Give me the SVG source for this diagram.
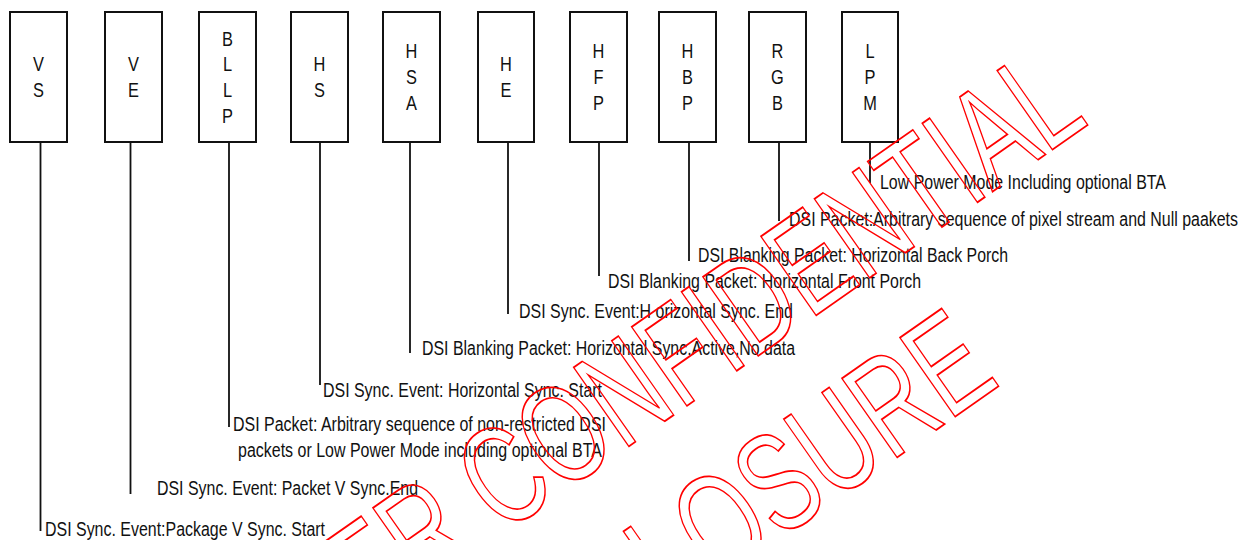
<svg xmlns="http://www.w3.org/2000/svg" width="1241" height="540" viewBox="0 0 1241 540">
<style>
  .box { fill: #fff; stroke: #111; stroke-width: 2; }
  .bl { font-family: "Liberation Sans", Arial, sans-serif; font-size: 20px; fill: #111; text-anchor: middle; }
  .stem { stroke: #111; stroke-width: 1.8; fill: none; }
  .lbl { font-family: "Liberation Sans", Arial, sans-serif; font-size: 20px; fill: #111; }
  .wm { font-family: "Liberation Sans", Arial, sans-serif; font-size: 140px; fill: none; stroke: #f00; stroke-width: 1.8; }
</style>
<rect x="0" y="0" width="1241" height="540" fill="#fff"/>

<g id="n-vs">
  <rect class="box" x="10" y="12" width="57" height="130"/>
  <text class="bl" transform="translate(38.5,0) scale(0.82,1)"><tspan x="0" y="71.3">V</tspan><tspan x="0" y="97">S</tspan></text>
</g>
<g id="n-ve">
  <rect class="box" x="105" y="12" width="57" height="130"/>
  <text class="bl" transform="translate(133.5,0) scale(0.82,1)"><tspan x="0" y="71.3">V</tspan><tspan x="0" y="97">E</tspan></text>
</g>
<g id="n-bllp">
  <rect class="box" x="199" y="12" width="57" height="130"/>
  <text class="bl" transform="translate(227.5,0) scale(0.82,1)"><tspan x="0" y="45.6">B</tspan><tspan x="0" y="71.3">L</tspan><tspan x="0" y="97">L</tspan><tspan x="0" y="122.7">P</tspan></text>
</g>
<g id="n-hs">
  <rect class="box" x="291" y="12" width="57" height="130"/>
  <text class="bl" transform="translate(319.5,0) scale(0.82,1)"><tspan x="0" y="71.3">H</tspan><tspan x="0" y="97">S</tspan></text>
</g>
<g id="n-hsa">
  <rect class="box" x="383" y="12" width="57" height="130"/>
  <text class="bl" transform="translate(411.5,0) scale(0.82,1)"><tspan x="0" y="58.45">H</tspan><tspan x="0" y="84.15">S</tspan><tspan x="0" y="109.85">A</tspan></text>
</g>
<g id="n-he">
  <rect class="box" x="478" y="12" width="56" height="130"/>
  <text class="bl" transform="translate(506,0) scale(0.82,1)"><tspan x="0" y="71.3">H</tspan><tspan x="0" y="97">E</tspan></text>
</g>
<g id="n-hfp">
  <rect class="box" x="570" y="12" width="57" height="130"/>
  <text class="bl" transform="translate(598.5,0) scale(0.82,1)"><tspan x="0" y="58.45">H</tspan><tspan x="0" y="84.15">F</tspan><tspan x="0" y="109.85">P</tspan></text>
</g>
<g id="n-hbp">
  <rect class="box" x="659" y="12" width="57" height="130"/>
  <text class="bl" transform="translate(687.5,0) scale(0.82,1)"><tspan x="0" y="58.45">H</tspan><tspan x="0" y="84.15">B</tspan><tspan x="0" y="109.85">P</tspan></text>
</g>
<g id="n-rgb">
  <rect class="box" x="749" y="12" width="57" height="130"/>
  <text class="bl" transform="translate(777.5,0) scale(0.82,1)"><tspan x="0" y="58.45">R</tspan><tspan x="0" y="84.15">G</tspan><tspan x="0" y="109.85">B</tspan></text>
</g>
<g id="n-lpm">
  <rect class="box" x="842" y="12" width="56" height="130"/>
  <text class="bl" transform="translate(870,0) scale(0.82,1)"><tspan x="0" y="58.45">L</tspan><tspan x="0" y="84.15">P</tspan><tspan x="0" y="109.85">M</tspan></text>
</g>

<g id="connectors">
  <line class="stem" x1="40.5" y1="143" x2="40.5" y2="531"/>
  <line class="stem" x1="130.5" y1="143" x2="130.5" y2="494"/>
  <line class="stem" x1="229" y1="143" x2="229" y2="427"/>
  <line class="stem" x1="320" y1="143" x2="320" y2="385"/>
  <line class="stem" x1="410" y1="143" x2="410" y2="353"/>
  <line class="stem" x1="508" y1="143" x2="508" y2="314"/>
  <line class="stem" x1="599" y1="143" x2="599" y2="276"/>
  <line class="stem" x1="689" y1="143" x2="689" y2="261"/>
  <line class="stem" x1="779" y1="143" x2="779" y2="221"/>
  <line class="stem" x1="870" y1="143" x2="870" y2="183"/>
</g>

<g id="labels">
  <text class="lbl" x="45" y="536" textLength="280" lengthAdjust="spacingAndGlyphs">DSI Sync. Event:Package V Sync. Start</text>
  <text class="lbl" x="157" y="495" textLength="261" lengthAdjust="spacingAndGlyphs">DSI Sync. Event: Packet V Sync.End</text>
  <text class="lbl" x="233" y="431" textLength="373" lengthAdjust="spacingAndGlyphs">DSI Packet: Arbitrary sequence of non-restricted DSI</text>
  <text class="lbl" x="238" y="457" textLength="364" lengthAdjust="spacingAndGlyphs">packets or Low Power Mode including optional BTA</text>
  <text class="lbl" x="323" y="397" textLength="279" lengthAdjust="spacingAndGlyphs">DSI Sync. Event: Horizontal Sync. Start</text>
  <text class="lbl" x="422" y="355" textLength="373" lengthAdjust="spacingAndGlyphs">DSI Blanking Packet: Horizontal Sync.Active,No data</text>
  <text class="lbl" x="519" y="318" textLength="274" lengthAdjust="spacingAndGlyphs">DSI Sync. Event:H orizontal Sync. End</text>
  <text class="lbl" x="608" y="288" textLength="313" lengthAdjust="spacingAndGlyphs">DSI Blanking Packet: Horizontal Front Porch</text>
  <text class="lbl" x="698" y="262" textLength="310" lengthAdjust="spacingAndGlyphs">DSI Blanking Packet: Horizontal Back Porch</text>
  <text class="lbl" x="789" y="226" textLength="449" lengthAdjust="spacingAndGlyphs">DSI Packet:Arbitrary sequence of pixel stream and Null paakets</text>
  <text class="lbl" x="880" y="189" textLength="286" lengthAdjust="spacingAndGlyphs">Low Power Mode Including optional BTA</text>
</g>

<g id="watermark">
  <text class="wm" transform="translate(368,629) rotate(-35)" x="0" y="0" textLength="882" lengthAdjust="spacingAndGlyphs">ER CONFIDENTIAL</text>
  <text class="wm" transform="translate(672,615) rotate(-35)" x="0" y="0" textLength="403" lengthAdjust="spacingAndGlyphs">LOSURE</text>
</g>
</svg>
